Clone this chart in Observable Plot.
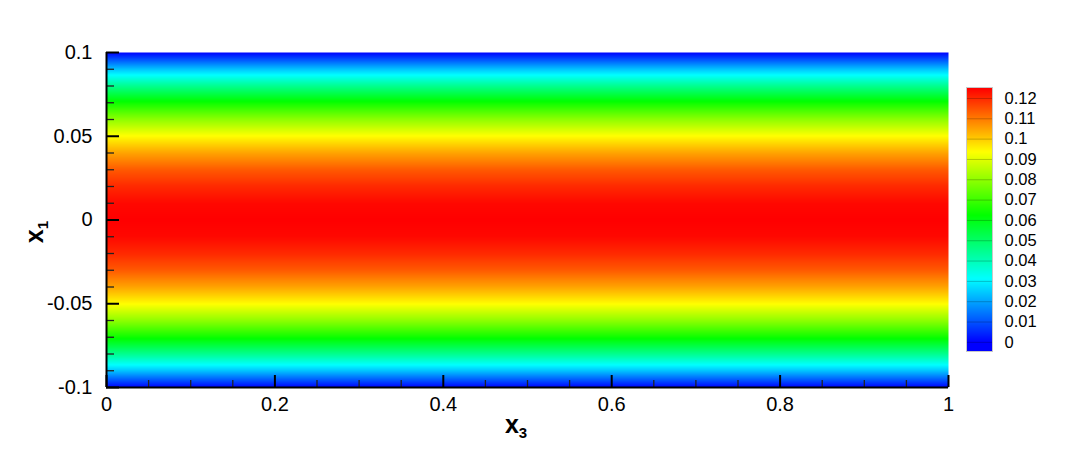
<!DOCTYPE html>
<html><head><meta charset="utf-8">
<script src="https://cdn.jsdelivr.net/npm/d3@7"></script>
<script src="https://cdn.jsdelivr.net/npm/@observablehq/plot@0.6"></script>
<style>
body{margin:0;background:#fff;}
#wrap{position:relative;width:1076px;height:461px;overflow:hidden;background:#fff;}
#wrap svg{position:absolute;}
</style>
</head><body><div id="wrap"></div>
<script>
// Profile: value (u) across x1, uniform along x3
const x1Pos = [-0.1,-0.09,-0.08,-0.07,-0.06,-0.05,-0.04,-0.03,-0.02,-0.01,0,0.01,0.02,0.03,0.04,0.05,0.06,0.07,0.08,0.09,0.1];
const uVals = [0,0.024,0.045,0.064,0.08,0.094,0.105,0.114,0.12,0.124,0.125,0.124,0.12,0.114,0.105,0.094,0.08,0.064,0.045,0.024,0];
const x3Pos = [0, 1];

const xTicks = [0,0.2,0.4,0.6,0.8,1];
const xMinor = [0.05,0.1,0.15,0.25,0.3,0.35,0.45,0.5,0.55,0.65,0.7,0.75,0.85,0.9,0.95];
const yTicks = [-0.1,-0.05,0,0.05,0.1];
const yMinor = [-0.09,-0.08,-0.07,-0.06,-0.04,-0.03,-0.02,-0.01,0.01,0.02,0.03,0.04,0.06,0.07,0.08,0.09];
const levels = [0,0.01,0.02,0.03,0.04,0.05,0.06,0.07,0.08,0.09,0.1,0.11,0.12];
const colorStops = [0,0.03125,0.0625,0.09375,0.125];
const colorRange = ["#0000ff","#00ffff","#00ff00","#ffff00","#ff0000"];
const legendRange = [-0.0045,0.1254];

const grid = x3Pos.flatMap(x3 => x1Pos.map((x1,i) => ({x3, x1, u: uVals[i]})));

const W = 1076, H = 461, mL = 106, mR = 128, mT = 52, mB = 74;
const fw = W - mL - mR, fh = H - mT - mB;
const font = "'Liberation Sans', Arial, Helvetica, sans-serif";
const colorOpts = {type: "linear", domain: colorStops, range: colorRange, clamp: true};

const main = Plot.plot({
  width: W, height: H, marginLeft: mL, marginRight: mR, marginTop: mT, marginBottom: mB,
  style: {fontFamily: font, fontSize: "20px", background: "transparent", color: "#000"},
  x: {domain: [0,1]},
  y: {domain: [-0.1,0.1]},
  color: colorOpts,
  marks: [
    Plot.raster(grid, {x: "x3", y: "x1", fill: "u", interpolate: "barycentric", pixelSize: 1,
      x1: 0, x2: 1, y1: -0.1, y2: 0.1}),
    Plot.tickY(yMinor, {y: d => d, insetRight: fw - 8, stroke: "#222", strokeWidth: 1.3}),
    Plot.tickY(yTicks, {y: d => d, insetRight: fw - 13, stroke: "#000", strokeWidth: 2}),
    Plot.tickX(xMinor, {x: d => d, insetTop: fh - 7, stroke: "#222", strokeWidth: 1.3}),
    Plot.tickX(xTicks, {x: d => d, insetTop: fh - 12, stroke: "#000", strokeWidth: 2}),
    Plot.ruleX([0], {stroke: "#000", strokeWidth: 2}),
    Plot.ruleY([-0.1], {stroke: "#000", strokeWidth: 2}),
    Plot.axisX({ticks: xTicks, tickSize: 0, tickPadding: 9, fontSize: 20, tickFormat: d => String(d), label: null}),
    Plot.axisY({ticks: yTicks, tickSize: 0, tickPadding: 14, fontSize: 20, tickFormat: d => String(d), label: null})
  ]
});
main.style.left = "0px"; main.style.top = "0px";

// axis titles with subscripts
const svg = d3.select(main);
const tx = svg.append("text").attr("x", 516).attr("y", 433).attr("font-family", font).attr("fill", "#000");
tx.append("tspan").attr("font-size", 25).attr("font-weight", "bold").text("x");
tx.append("tspan").attr("font-size", 15).attr("font-weight", "bold").attr("dy", 5).text("3");
const ty = svg.append("text").attr("transform", "translate(43,232) rotate(-90)").attr("font-family", font).attr("fill", "#000");
ty.append("tspan").attr("font-size", 25).attr("font-weight", "bold").text("x");
ty.append("tspan").attr("font-size", 15).attr("font-weight", "bold").attr("dy", 5).text("1");

const legend = Plot.plot({
  width: 136, height: 310, marginLeft: 26, marginRight: 84, marginTop: 27, marginBottom: 19,
  style: {fontFamily: font, fontSize: "16.5px", background: "transparent", color: "#000"},
  x: {domain: [0,1], axis: null},
  y: {domain: legendRange, axis: null},
  color: colorOpts,
  marks: [
    Plot.raster({fill: (x, y) => y, x1: 0, x2: 1, y1: legendRange[0], y2: legendRange[1], pixelSize: 1}),
    Plot.ruleY(levels, {stroke: "#000", strokeOpacity: 0.22}),
    Plot.frame({stroke: "#c8c8c8"}),
    Plot.text(levels, {x: 1, y: d => d, text: d => String(d), textAnchor: "start", dx: 12, fontSize: 16.5})
  ]
});
legend.style.left = "940px"; legend.style.top = "60px";

const wrap = document.getElementById("wrap");
wrap.appendChild(main);
wrap.appendChild(legend);
</script>
</body></html>
